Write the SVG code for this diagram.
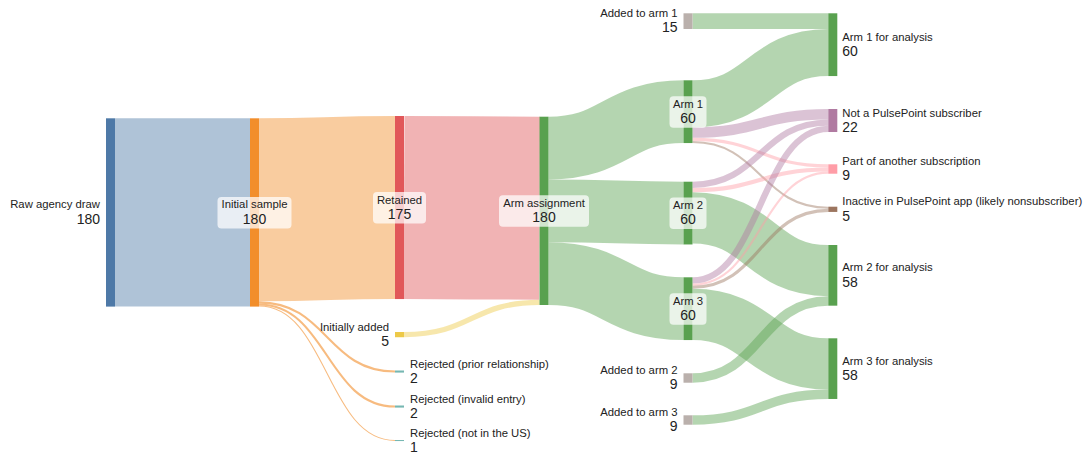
<svg xmlns="http://www.w3.org/2000/svg" width="1084" height="453" viewBox="0 0 1084 453">
<style>
  .lk{fill:none;stroke-opacity:0.45}
  .thin{fill:none;stroke-opacity:0.6}
  .lbl{font-family:"Liberation Sans",Arial,sans-serif;font-size:11.3px;fill:#222}
  .num{font-family:"Liberation Sans",Arial,sans-serif;font-size:14px;fill:#222}
  .box{fill:#fff;fill-opacity:0.72}
  .e{text-anchor:end}
  .m{text-anchor:middle}
</style>
<rect width="1084" height="453" fill="#fff"/>
<g id="links">
  <path class="lk" stroke="#4e79a7" stroke-width="188.3" d="M115,212.45 C182.5,212.45 182.5,212.45 250,212.45"/>
  <path class="lk" stroke="#f28e2b" stroke-width="183.05" d="M259,209.8 C327,209.8 327,207.5 395,207.5"/>
  <path class="thin" stroke="#f28e2b" stroke-width="2.09" d="M259,302.4 C327,302.4 327,371.55 395,371.55"/>
  <path class="thin" stroke="#f28e2b" stroke-width="2.09" d="M259,304.49 C327,304.49 327,406.55 395,406.55"/>
  <path class="thin" stroke="#f28e2b" stroke-width="1.05" d="M259,306.05 C327,306.05 327,440.52 395,440.52"/>
  <path class="lk" stroke="#e15759" stroke-width="183.05" d="M404,207.53 C471.75,207.53 471.75,208.23 539.5,208.23"/>
  <path class="lk" stroke="#edc948" stroke-width="5.23" d="M404,334.6 C471.75,334.6 471.75,302.35 539.5,302.35"/>
  <path class="lk" stroke="#59a14f" stroke-width="62.76" d="M548.5,148.08 C616,148.08 616,111.68 683.5,111.68"/>
  <path class="lk" stroke="#59a14f" stroke-width="62.76" d="M548.5,210.84 C616,210.84 616,213.08 683.5,213.08"/>
  <path class="lk" stroke="#59a14f" stroke-width="62.76" d="M548.5,273.6 C616,273.6 616,308.68 683.5,308.68"/>
  <path class="lk" stroke="#59a14f" stroke-width="15.69" d="M692.5,21.15 C760.4,21.15 760.4,21.15 828.3,21.15"/>
  <path class="lk" stroke="#59a14f" stroke-width="47.07" d="M692.5,103.84 C760.4,103.84 760.4,52.53 828.3,52.53"/>
  <path class="lk" stroke="#b07aa1" stroke-width="10.46" d="M692.5,132.6 C760.4,132.6 760.4,114.23 828.3,114.23"/>
  <path class="lk" stroke="#ff9da7" stroke-width="3.14" d="M692.5,139.4 C760.4,139.4 760.4,165.87 828.3,165.87"/>
  <path class="lk" stroke="#9c755f" stroke-width="2.09" d="M692.5,142.02 C760.4,142.02 760.4,207.75 828.3,207.75"/>
  <path class="lk" stroke="#b07aa1" stroke-width="6.28" d="M692.5,184.84 C760.4,184.84 760.4,122.6 828.3,122.6"/>
  <path class="lk" stroke="#ff9da7" stroke-width="4.18" d="M692.5,190.07 C760.4,190.07 760.4,169.53 828.3,169.53"/>
  <path class="lk" stroke="#59a14f" stroke-width="51.25" d="M692.5,217.79 C760.4,217.79 760.4,270.63 828.3,270.63"/>
  <path class="lk" stroke="#b07aa1" stroke-width="6.28" d="M692.5,280.44 C760.4,280.44 760.4,128.88 828.3,128.88"/>
  <path class="lk" stroke="#ff9da7" stroke-width="2.09" d="M692.5,284.63 C760.4,284.63 760.4,172.67 828.3,172.67"/>
  <path class="lk" stroke="#9c755f" stroke-width="3.14" d="M692.5,287.24 C760.4,287.24 760.4,210.36 828.3,210.36"/>
  <path class="lk" stroke="#59a14f" stroke-width="51.25" d="M692.5,314.44 C760.4,314.44 760.4,363.93 828.3,363.93"/>
  <path class="lk" stroke="#59a14f" stroke-width="9.41" d="M692.5,378.01 C760.4,378.01 760.4,300.96 828.3,300.96"/>
  <path class="lk" stroke="#59a14f" stroke-width="9.41" d="M692.5,420.01 C760.4,420.01 760.4,394.26 828.3,394.26"/>
</g>
<g id="raw">
  <rect x="106" y="118.3" width="9" height="188.3" fill="#4e79a7"/>
  <text class="lbl e" x="100" y="208.45">Raw agency draw</text>
  <text class="num e" x="100" y="223.75">180</text>
</g>
<g id="initial">
  <rect x="250" y="118.3" width="9" height="188.3" fill="#f28e2b"/>
  <rect class="box" x="217.5" y="197" width="74" height="31.5" rx="4"/>
  <text class="lbl m" x="254.5" y="208.45">Initial sample</text>
  <text class="num m" x="254.5" y="223.75">180</text>
</g>
<g id="retained">
  <rect x="395" y="116" width="9" height="183.05" fill="#e15759"/>
  <rect class="box" x="373" y="192" width="53" height="31.5" rx="4"/>
  <text class="lbl m" x="399.5" y="203.5">Retained</text>
  <text class="num m" x="399.5" y="218.8">175</text>
</g>
<g id="initadded">
  <rect x="395" y="332" width="9" height="5.23" fill="#edc948"/>
  <text class="lbl e" x="389" y="330.6">Initially added</text>
  <text class="num e" x="389" y="345.9">5</text>
</g>
<g id="rejprior">
  <rect x="395" y="370.5" width="9" height="2.09" fill="#76b7b2"/>
  <text class="lbl" x="410" y="367.55">Rejected (prior relationship)</text>
  <text class="num" x="410" y="382.85">2</text>
</g>
<g id="rejinvalid">
  <rect x="395" y="405.5" width="9" height="2.09" fill="#76b7b2"/>
  <text class="lbl" x="410" y="402.55">Rejected (invalid entry)</text>
  <text class="num" x="410" y="417.85">2</text>
</g>
<g id="rejus">
  <rect x="395" y="440" width="9" height="1.05" fill="#76b7b2"/>
  <text class="lbl" x="410" y="436.52">Rejected (not in the US)</text>
  <text class="num" x="410" y="451.8">1</text>
</g>
<g id="armassign">
  <rect x="539.5" y="116.7" width="9" height="188.3" fill="#59a14f"/>
  <rect class="box" x="499" y="195.35" width="90" height="31.5" rx="4"/>
  <text class="lbl m" x="544" y="206.85">Arm assignment</text>
  <text class="num m" x="544" y="222.15">180</text>
</g>
<g id="arm1">
  <rect x="683.5" y="80.3" width="9" height="62.76" fill="#59a14f"/>
  <rect class="box" x="669.5" y="96.2" width="37" height="31.5" rx="4"/>
  <text class="lbl m" x="688" y="107.7">Arm 1</text>
  <text class="num m" x="688" y="123">60</text>
</g>
<g id="arm2">
  <rect x="683.5" y="181.7" width="9" height="62.76" fill="#59a14f"/>
  <rect class="box" x="669.5" y="197.6" width="37" height="31.5" rx="4"/>
  <text class="lbl m" x="688" y="209.1">Arm 2</text>
  <text class="num m" x="688" y="224.4">60</text>
</g>
<g id="arm3">
  <rect x="683.5" y="277.3" width="9" height="62.76" fill="#59a14f"/>
  <rect class="box" x="669.5" y="293.2" width="37" height="31.5" rx="4"/>
  <text class="lbl m" x="688" y="304.7">Arm 3</text>
  <text class="num m" x="688" y="320">60</text>
</g>
<g id="added1">
  <rect x="683.5" y="13.3" width="9" height="15.69" fill="#bab0ac"/>
  <text class="lbl e" x="677.5" y="17.15">Added to arm 1</text>
  <text class="num e" x="677.5" y="32.45">15</text>
</g>
<g id="added2">
  <rect x="683.5" y="373.3" width="9" height="9.41" fill="#bab0ac"/>
  <text class="lbl e" x="677.5" y="374">Added to arm 2</text>
  <text class="num e" x="677.5" y="389.3">9</text>
</g>
<g id="added3">
  <rect x="683.5" y="415.3" width="9" height="9.41" fill="#bab0ac"/>
  <text class="lbl e" x="677.5" y="416">Added to arm 3</text>
  <text class="num e" x="677.5" y="431.3">9</text>
</g>
<g id="a1analysis">
  <rect x="828.3" y="13.3" width="9" height="62.76" fill="#59a14f"/>
  <text class="lbl" x="842.3" y="40.7">Arm 1 for analysis</text>
  <text class="num" x="842.3" y="56">60</text>
</g>
<g id="notpp">
  <rect x="828.3" y="109" width="9" height="23.01" fill="#b07aa1"/>
  <text class="lbl" x="842.3" y="116.5">Not a PulsePoint subscriber</text>
  <text class="num" x="842.3" y="131.8">22</text>
</g>
<g id="partof">
  <rect x="828.3" y="164.3" width="9" height="9.41" fill="#ff9da7"/>
  <text class="lbl" x="842.3" y="165">Part of another subscription</text>
  <text class="num" x="842.3" y="180.3">9</text>
</g>
<g id="inactive">
  <rect x="828.3" y="206.7" width="9" height="5.23" fill="#9c755f"/>
  <text class="lbl" x="842.3" y="205.3">Inactive in PulsePoint app (likely nonsubscriber)</text>
  <text class="num" x="842.3" y="220.6">5</text>
</g>
<g id="a2analysis">
  <rect x="828.3" y="245" width="9" height="60.67" fill="#59a14f"/>
  <text class="lbl" x="842.3" y="271.3">Arm 2 for analysis</text>
  <text class="num" x="842.3" y="286.6">58</text>
</g>
<g id="a3analysis">
  <rect x="828.3" y="338.3" width="9" height="60.67" fill="#59a14f"/>
  <text class="lbl" x="842.3" y="364.6">Arm 3 for analysis</text>
  <text class="num" x="842.3" y="379.9">58</text>
</g>
</svg>
